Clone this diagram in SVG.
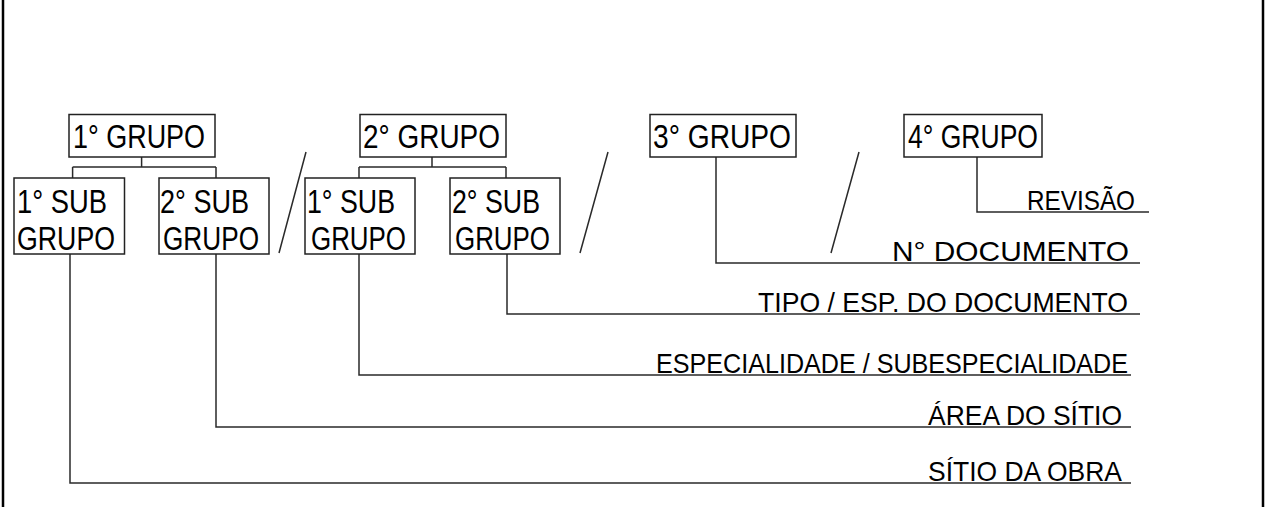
<svg xmlns="http://www.w3.org/2000/svg" width="1266" height="507" viewBox="0 0 1266 507">
<style>
.frame{stroke:#000;stroke-width:2.5;fill:none}
.box{fill:#fff;stroke:#222;stroke-width:1.5}
.ln{fill:none;stroke:#2a2a2a;stroke-width:1.5}
.bt{font-family:"Liberation Sans",Arial,sans-serif;font-size:33px;fill:#000}
.lt{font-family:"Liberation Sans",Arial,sans-serif;font-size:28px;fill:#000}
</style>
<rect width="1266" height="507" fill="#fff"/>
<line class="frame" x1="3" y1="0" x2="3" y2="507"/>
<line class="frame" x1="1263" y1="0" x2="1263" y2="507"/>

<g id="connectors">
<path class="ln" d="M141.6,157 V167 M72.6,167 H216 M72.6,167 V178 M216,167 V178"/>
<path class="ln" d="M432,157 V167 M359,167 H506 M359,167 V178 M506,167 V178"/>
<path class="ln" d="M70,254 V483 H1131"/>
<path class="ln" d="M216,254 V427 H1131"/>
<path class="ln" d="M359,254 V375 H1131"/>
<path class="ln" d="M507,254 V314 H1140"/>
<path class="ln" d="M716,157 V263 H1140"/>
<path class="ln" d="M977,157 V212 H1149"/>
<path class="ln" d="M306,152 L279,253 M608,152 L580,253 M859,152 L831,253"/>
</g>

<g id="g1"><rect class="box" x="69" y="114.5" width="146" height="42.5"/><text class="bt" x="73" y="147.5" textLength="132" lengthAdjust="spacingAndGlyphs">1° GRUPO</text></g>
<g id="g2"><rect class="box" x="360" y="114.5" width="146" height="42.5"/><text class="bt" x="363" y="147.5" textLength="137" lengthAdjust="spacingAndGlyphs">2° GRUPO</text></g>
<g id="g3"><rect class="box" x="650" y="114.5" width="146" height="42.5"/><text class="bt" x="653" y="147.5" textLength="138" lengthAdjust="spacingAndGlyphs">3° GRUPO</text></g>
<g id="g4"><rect class="box" x="904" y="114.5" width="138" height="42.5"/><text class="bt" x="908" y="147.5" textLength="130" lengthAdjust="spacingAndGlyphs">4° GRUPO</text></g>

<g id="s1"><rect class="box" x="14" y="178" width="110.5" height="76"/><text class="bt" x="17" y="213" textLength="90" lengthAdjust="spacingAndGlyphs">1° SUB</text><text class="bt" x="17" y="250" textLength="98" lengthAdjust="spacingAndGlyphs">GRUPO</text></g>
<g id="s2"><rect class="box" x="159" y="178" width="110" height="76"/><text class="bt" x="160" y="213" textLength="89" lengthAdjust="spacingAndGlyphs">2° SUB</text><text class="bt" x="163" y="250" textLength="96" lengthAdjust="spacingAndGlyphs">GRUPO</text></g>
<g id="s3"><rect class="box" x="305" y="178" width="110" height="76"/><text class="bt" x="307" y="213" textLength="88" lengthAdjust="spacingAndGlyphs">1° SUB</text><text class="bt" x="311" y="250" textLength="95" lengthAdjust="spacingAndGlyphs">GRUPO</text></g>
<g id="s4"><rect class="box" x="450" y="178" width="110" height="76"/><text class="bt" x="452" y="213" textLength="88" lengthAdjust="spacingAndGlyphs">2° SUB</text><text class="bt" x="455" y="250" textLength="95" lengthAdjust="spacingAndGlyphs">GRUPO</text></g>

<g id="l-revisao"><text class="lt" x="1027" y="210" textLength="108" lengthAdjust="spacingAndGlyphs">REVISÃO</text></g>
<g id="l-documento"><text class="lt" x="892" y="261" textLength="237" lengthAdjust="spacingAndGlyphs">N° DOCUMENTO</text></g>
<g id="l-tipo"><text class="lt" x="758" y="312" textLength="370" lengthAdjust="spacingAndGlyphs">TIPO / ESP. DO DOCUMENTO</text></g>
<g id="l-especialidade"><text class="lt" x="656" y="373" textLength="472" lengthAdjust="spacingAndGlyphs">ESPECIALIDADE / SUBESPECIALIDADE</text></g>
<g id="l-area"><text class="lt" x="928" y="425" textLength="194" lengthAdjust="spacingAndGlyphs">ÁREA DO SÍTIO</text></g>
<g id="l-sitio"><text class="lt" x="928" y="481" textLength="194" lengthAdjust="spacingAndGlyphs">SÍTIO DA OBRA</text></g>
</svg>
